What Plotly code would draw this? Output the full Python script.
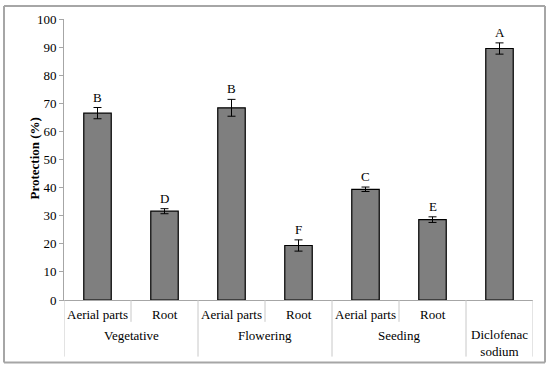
import plotly.graph_objects as go

subs = ["Aerial parts", "Root", "Aerial parts", "Root", "Aerial parts", "Root", ""]
groups = ["Vegetative", "Flowering", "Seeding", "Diclofenac<br>sodium"]
group_span = [(0, 1), (2, 3), (4, 5), (6, 6)]
values = [66.5, 31.6, 68.4, 19.4, 39.4, 28.6, 89.5]
errors = [2.0, 0.9, 3.0, 2.0, 0.8, 1.0, 2.0]
letters = ["B", "D", "B", "F", "C", "E", "A"]
yticks = list(range(0, 101, 10))

FONT = "Liberation Serif, Times New Roman, serif"
W, H = 550, 367
L, R, T, B = 64, 17, 17, 67
pw, ph = W - L - R, H - T - B

def py(px):  # pixel y -> paper y
    return (H - B - px) / ph

def pxp(px):  # pixel x -> paper x
    return (px - L) / pw

xs = list(range(len(values)))

fig = go.Figure()
fig.add_trace(go.Bar(
    x=xs, y=values, width=0.41,
    marker=dict(color="#7f7f7f", line=dict(color="#000000", width=1.2)),
    error_y=dict(type="data", array=errors, visible=True, color="#000000", thickness=1, width=4),
    showlegend=False, hoverinfo="skip",
))

ann = []
for i, (v, e, l) in enumerate(zip(values, errors, letters)):
    ann.append(dict(x=i, y=v + e, xref="x", yref="y", text=l, showarrow=False,
                    yanchor="bottom", yshift=1, font=dict(family=FONT, size=13, color="#000")))
for i, s in enumerate(subs):
    if s:
        ann.append(dict(x=i, y=py(315), xref="x", yref="paper", text=s, showarrow=False,
                        yanchor="middle", font=dict(family=FONT, size=13, color="#000")))
for g, (a, b) in zip(groups, group_span):
    yy = py(343) if "<br>" in g else py(336)
    ann.append(dict(x=(a + b) / 2, y=yy, xref="x", yref="paper", text=g, showarrow=False,
                    yanchor="middle", font=dict(family=FONT, size=13, color="#000")))
ann.append(dict(x=pxp(25), y=py(158), xref="paper", yref="paper", text="<b>Protection (%)</b>",
                textangle=-90, showarrow=False, font=dict(family=FONT, size=13, color="#000")))

shapes = []
sep_color = "#c8c8c8"
long_pos = [-0.5, 1.5, 3.5, 5.5, 6.5]
short_pos = [0.5, 2.5, 4.5]
for xp in long_pos:
    shapes.append(dict(type="line", xref="x", yref="paper", x0=xp, x1=xp, y0=0, y1=py(357),
                       line=dict(color=sep_color, width=1)))
for xp in short_pos:
    shapes.append(dict(type="line", xref="x", yref="paper", x0=xp, x1=xp, y0=0, y1=py(322),
                       line=dict(color=sep_color, width=1)))
# outer frame
bx0, bx1, by0, by1 = pxp(4), pxp(545), py(363), py(4)
for (x0, y0, x1, y1) in [(bx0, by0, bx1, by0), (bx0, by1, bx1, by1), (bx0, by0, bx0, by1), (bx1, by0, bx1, by1)]:
    shapes.append(dict(type="line", xref="paper", yref="paper", x0=x0, x1=x1, y0=y0, y1=y1,
                       line=dict(color="#a6a6a6", width=2)))

fig.update_layout(
    width=W, height=H,
    margin=dict(l=L, r=R, t=T, b=B),
    paper_bgcolor="white", plot_bgcolor="white",
    xaxis=dict(range=[-0.5, 6.5], showticklabels=False, ticks="", showgrid=False,
               zeroline=False, showline=True, linecolor="#a6a6a6", linewidth=1),
    yaxis=dict(range=[0, 100], tickvals=yticks, ticks="outside", ticklen=4, tickcolor="#a6a6a6",
               showgrid=False, zeroline=False, showline=True, linecolor="#a6a6a6", linewidth=1,
               tickfont=dict(family=FONT, size=13, color="#000")),
    annotations=ann, shapes=shapes,
)
fig.write_html("out.html", config={"displayModeBar": False},
               post_script="document.body.style.margin='0px';document.body.style.padding='0px';")
